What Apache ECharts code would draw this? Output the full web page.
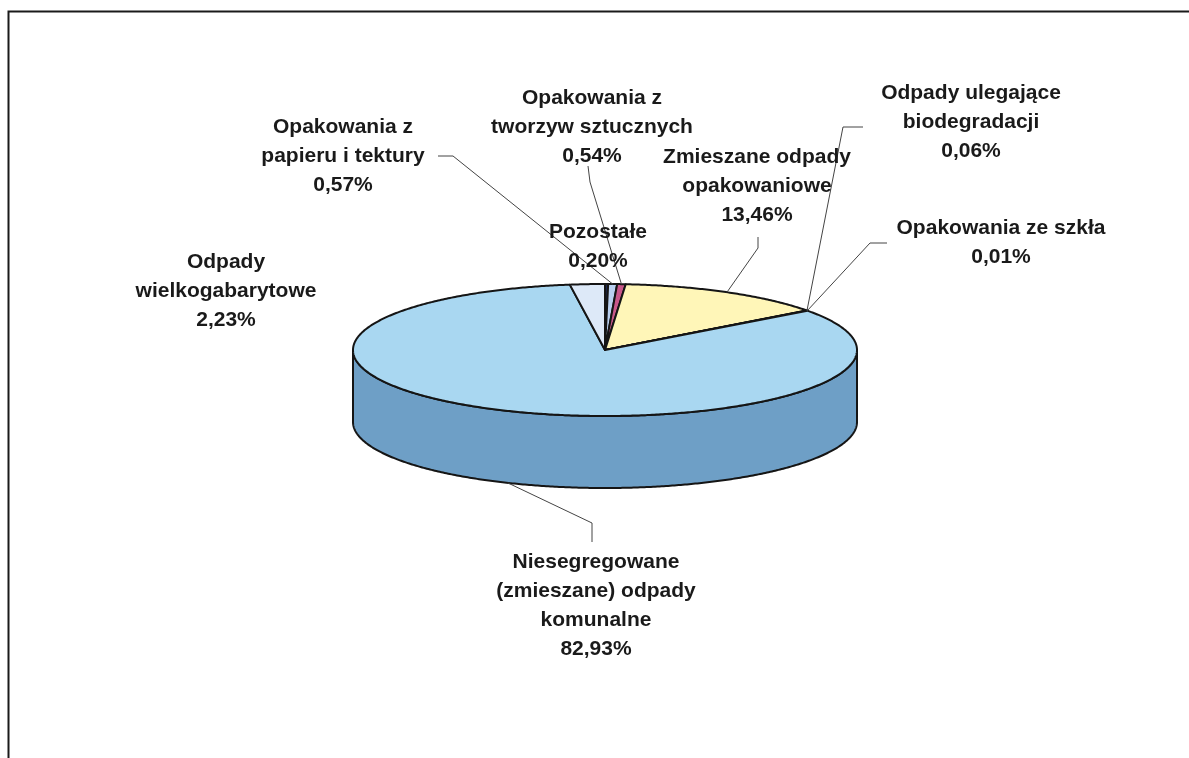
<!DOCTYPE html>
<html>
<head>
<meta charset="utf-8">
<script src="https://cdn.jsdelivr.net/npm/echarts@6/dist/echarts.min.js"></script>
<style>
  html, body { margin: 0; padding: 0; background: #fff; }
  #chart { width: 1189px; height: 758px; }
</style>
</head>
<body>
<div id="chart"></div>
<script>
// data, clockwise from 12 o'clock
const categories = [
  'Pozostałe',
  'Opakowania z\npapieru i tektury',
  'Opakowania z\ntworzyw sztucznych',
  'Zmieszane odpady\nopakowaniowe',
  'Odpady ulegające\nbiodegradacji',
  'Opakowania ze szkła',
  'Niesegregowane\n(zmieszane) odpady\nkomunalne',
  'Odpady\nwielkogabarytowe'
];
const shares = [0.20, 0.57, 0.54, 13.46, 0.06, 0.01, 82.93, 2.23];

// styles
const topColors  = ['#1c2750', '#b9d0f0', '#c8578a', '#fff6b8', '#8fb3d9', '#e8eef8', '#a9d7f1', '#dde9f8'];
const sideColors = ['#141c3a', '#8ea6c8', '#9a4068', '#d8cf88', '#6a8db3', '#b8c4d4', '#6e9fc6', '#aebfd4'];

// layout (px): pie ellipse and label placement
const PIE = { cx: 605, cy: 350, rx: 252, ry: 66, depth: 72 };
const LINE_H = 29;
const labelLayout = [
  { x: 598, y: 232 },
  { x: 343, y: 127, lead: [[438, 156], [453, 156]] },
  { x: 592, y: 98,  lead: [[588, 166], [590, 182]] },
  { x: 757, y: 157, lead: [[758, 237], [758, 248]] },
  { x: 971, y: 93,  lead: [[863, 127], [843, 127]] },
  { x: 1001, y: 228, lead: [[887, 243], [870, 243]] },
  { x: 596, y: 562, lead: [[592, 542], [592, 523]] },
  { x: 226, y: 262 }
];

const total = shares.reduce((a, b) => a + b, 0);

function pt(deg, dy) {
  const r = deg * Math.PI / 180;
  return [PIE.cx + PIE.rx * Math.sin(r), PIE.cy - PIE.ry * Math.cos(r) + (dy || 0)];
}
function arc(a0, a1, dy) {
  const pts = [];
  const n = Math.max(2, Math.ceil((a1 - a0) / 0.5));
  for (let k = 0; k <= n; k++) pts.push(pt(a0 + (a1 - a0) * k / n, dy));
  return pts;
}
function fmt(v) {
  return v.toFixed(2).replace('.', ',') + '%';
}

function renderItem(params, api) {
  const i = params.dataIndex;
  let before = 0;
  for (let j = 0; j < i; j++) before += shares[j];
  const a0 = before / total * 360;
  const a1 = (before + api.value(0)) / total * 360;
  const children = [];

  // front wall (only the part facing the viewer)
  const s = Math.max(a0, 90), e = Math.min(a1, 270);
  if (e > s) {
    children.push({
      type: 'polygon', z2: 1,
      shape: { points: arc(s, e, 0).concat(arc(s, e, PIE.depth).reverse()) },
      style: { fill: sideColors[i], stroke: '#151515', lineWidth: 2, lineJoin: 'round' }
    });
  }
  // top face
  children.push({
    type: 'polygon', z2: 5,
    shape: { points: [[PIE.cx, PIE.cy]].concat(arc(a0, a1, 0)) },
    style: { fill: topColors[i], stroke: '#151515', lineWidth: 2, lineJoin: 'round' }
  });

  const lay = labelLayout[i];
  if (lay.lead) {
    const mid = (a0 + a1) / 2;
    const front = mid > 90 && mid < 270;
    const end = pt(mid, front ? PIE.depth : 0);
    children.push({
      type: 'polyline', z2: 8,
      shape: { points: lay.lead.concat([end]) },
      style: { stroke: '#444', lineWidth: 1, fill: null }
    });
  }
  children.push({
    type: 'text', z2: 10,
    x: lay.x, y: lay.y - LINE_H / 2,
    style: {
      text: categories[i] + '\n' + fmt(api.value(0)),
      align: 'center', verticalAlign: 'top',
      lineHeight: LINE_H,
      font: 'bold 21px "Liberation Sans", Arial, sans-serif',
      fill: '#1a1a1a'
    }
  });
  return { type: 'group', children: children };
}

const chart = echarts.init(document.getElementById('chart'));
chart.setOption({
  backgroundColor: '#fff',
  animation: false,
  graphic: [{
    type: 'rect', left: 6, top: 9,
    shape: { width: 1200, height: 770 },
    style: { fill: null, stroke: '#1a1a1a', lineWidth: 2 }
  }],
  series: [{
    type: 'custom',
    coordinateSystem: 'none',
    renderItem: renderItem,
    data: shares.map(v => [v])
  }]
});
window.onresize = chart.resize;
</script>
</body>
</html>
